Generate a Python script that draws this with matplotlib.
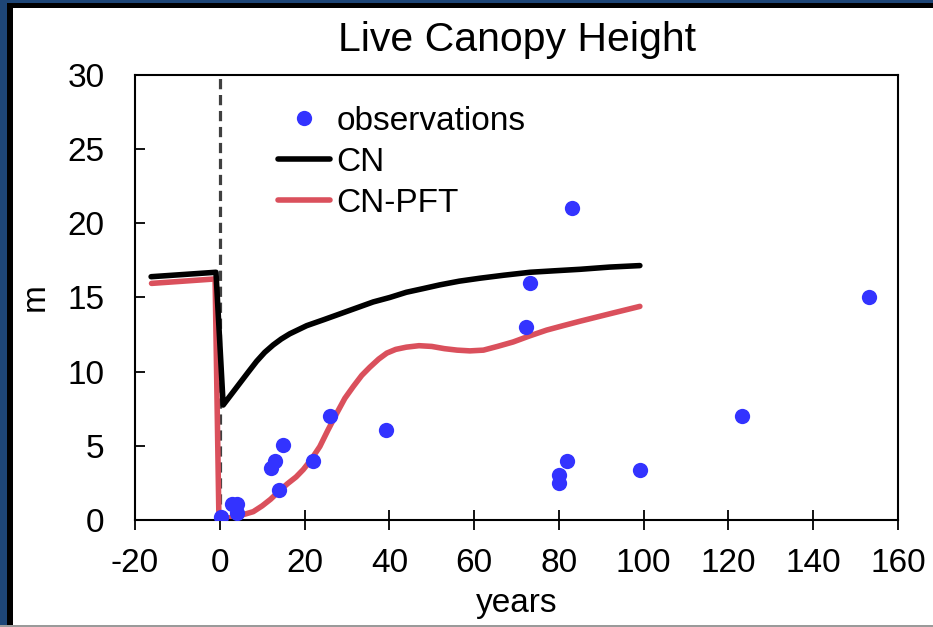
import matplotlib.pyplot as plt
from matplotlib.patches import Rectangle

plt.rcParams['font.family'] = ['Liberation Sans', 'DejaVu Sans']
plt.rcParams['axes.unicode_minus'] = False  # plain hyphen in "-20"

# observations
obs_years = [0.4, 2.8, 4.1, 4.1, 12.0, 13.0, 15.0, 14.0, 22.1, 26.0, 39.1,
             72.2, 73.2, 83.0, 80.0, 80.0, 82.0, 99.1, 123.3, 153.2]
obs_height = [0.2, 1.05, 1.05, 0.5, 3.5, 4.0, 5.05, 2.0, 4.0, 7.0, 6.05,
              13.0, 16.0, 21.0, 2.5, 3.0, 4.0, 3.4, 7.0, 15.0]

# CN model
cn_years = [-16.2, -0.9, 0.8, 2.8, 4.8, 6.8, 8.7, 10.6, 12.6, 14.5, 16.5, 20.5, 24.5,
            28.4, 32.3, 36.2, 40.1, 44.0, 48.0, 51.9, 56.5, 61.4, 67.0, 73.2, 79.0,
            85.0, 92.0, 99.1]
cn_height = [16.4, 16.7, 7.75, 8.5, 9.25, 10.0, 10.7, 11.3, 11.8, 12.2, 12.55, 13.1, 13.5,
             13.9, 14.3, 14.7, 15.0, 15.35, 15.6, 15.85, 16.1, 16.3, 16.5, 16.7, 16.8,
             16.9, 17.05, 17.15]

# CN-PFT model
pft_years = [-16.1, -1.1, -0.2, 1.6, 4.0, 6.0, 7.9, 10.0, 12.0, 14.2, 16.0, 18.0, 19.7,
             21.5, 23.6, 25.5, 27.6, 29.5, 31.5, 33.5, 35.4, 37.5, 39.4, 41.5, 44.0,
             47.0, 50.0, 53.0, 56.0, 59.0, 62.2, 65.5, 69.2, 73.0, 77.1, 81.0, 85.0,
             92.0, 99.1]
pft_height = [15.95, 16.25, 0.05, 0.1, 0.25, 0.4, 0.56, 0.95, 1.4, 2.0, 2.45, 2.9, 3.4,
              4.05, 4.95, 6.05, 7.2, 8.2, 9.0, 9.75, 10.3, 10.85, 11.25, 11.5, 11.65,
              11.75, 11.7, 11.55, 11.45, 11.4, 11.45, 11.7, 12.0, 12.4, 12.8, 13.1, 13.4,
              13.9, 14.4]

fig = plt.figure(figsize=(9.33, 6.27), dpi=100)
ax = fig.add_axes([0.1447, 0.1707, 0.8178, 0.7097])

# slide border (navy + black) on the top and left
fig.add_artist(Rectangle((0, 0), 7 / 933, 1, transform=fig.transFigure, color='#1E4677', lw=0))
fig.add_artist(Rectangle((0, 1 - 3 / 627), 1, 3 / 627, transform=fig.transFigure, color='#1E4677', lw=0))
fig.add_artist(Rectangle((7 / 933, 0), 6 / 933, 1 - 3 / 627, transform=fig.transFigure, color='black', lw=0))
fig.add_artist(Rectangle((7 / 933, 1 - 8 / 627), 1, 5 / 627, transform=fig.transFigure, color='black', lw=0))
fig.add_artist(Rectangle((0, 0), 1, 2 / 627, transform=fig.transFigure, color='#9a9a9a', lw=0))

ax.axvline(0, color='#404040', lw=2.3, ls=(0, (3.2, 1.8)), zorder=1)

ax.plot(obs_years, obs_height, 'o', color='#3333FF', ms=11, mec='none', label='observations', zorder=4)
ax.plot(cn_years, cn_height, color='black', lw=4, solid_joinstyle='round',
        solid_capstyle='round', label='CN', zorder=3)
ax.plot(pft_years, pft_height, color='#DA505C', lw=4, solid_joinstyle='round',
        solid_capstyle='round', label='CN-PFT', zorder=2)

ax.set_xlim(-20, 160)
ax.set_ylim(0, 30)
ax.set_xticks(range(-20, 161, 20))
ax.set_yticks(range(0, 31, 5))

for s in ax.spines.values():
    s.set_linewidth(1.5)
ax.tick_params(axis='x', direction='inout', length=14, width=1.3, labelsize=24, pad=13)
ax.tick_params(axis='y', direction='in', length=7, width=1.3, labelsize=24, pad=22)

ax.set_title('Live Canopy Height', fontsize=29.5, pad=17)
ax.set_xlabel('years', fontsize=24, labelpad=7)
ax.set_ylabel('m', fontsize=24, labelpad=12)

ax.legend(loc='upper left', bbox_to_anchor=(0.1874, 0.931), frameon=False, fontsize=24,
          borderpad=0, borderaxespad=0, handlelength=1.55, handletextpad=0.2,
          labelspacing=0.3, numpoints=1)

fig.savefig('out.png', dpi=100)
